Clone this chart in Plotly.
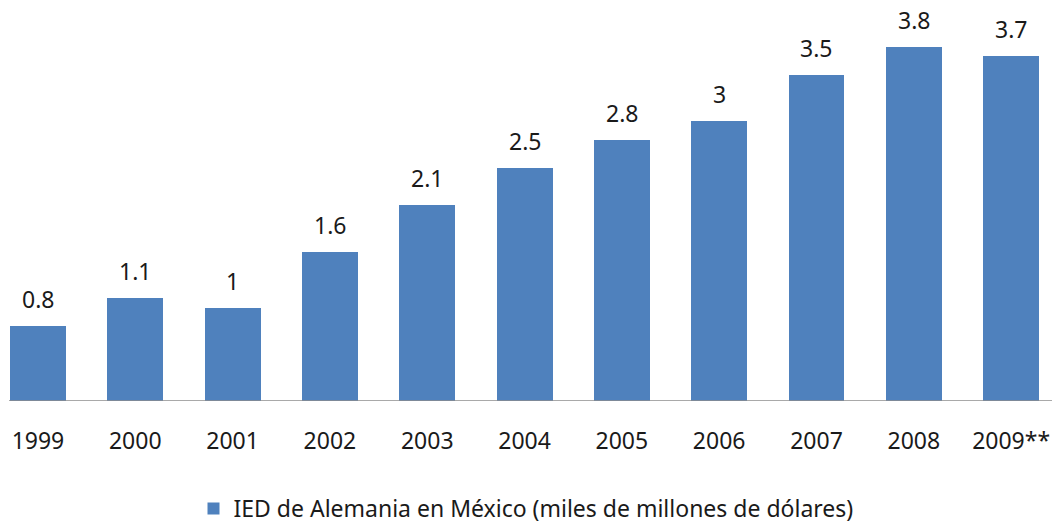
import plotly.graph_objects as go

years = ["1999", "2000", "2001", "2002", "2003", "2004", "2005", "2006", "2007", "2008", "2009**"]
ied = [0.8, 1.1, 1.0, 1.6, 2.1, 2.5, 2.8, 3.0, 3.5, 3.8, 3.7]
series_name = "IED de Alemania en México (miles de millones de dólares)"

BAR = "#4F81BD"
TXT = "#1a1a1a"
FONT = "Noto Sans, Open Sans, sans-serif"
FS = 23

fig = go.Figure()
fig.add_trace(go.Bar(
    x=list(range(len(years))), y=ied, name=series_name,
    marker=dict(color=BAR, line=dict(width=0)),
    width=0.575, showlegend=True,
))

# value labels above each bar
for i, v in enumerate(ied):
    fig.add_annotation(
        x=i, y=v, text=f"{v:g}", showarrow=False,
        yanchor="bottom", yshift=9,
        font=dict(family=FONT, size=FS, color=TXT),
    )

# baseline
fig.add_shape(type="line", xref="paper", yref="y",
              x0=9 / 1052, x1=1, y0=0, y1=0,
              line=dict(color="#8c8c8c", width=1.5))

fig.update_layout(
    width=1052, height=525,
    margin=dict(l=0, r=0, t=0, b=124, autoexpand=False),
    plot_bgcolor="white", paper_bgcolor="white",
    bargap=0,
    font=dict(family=FONT, size=FS, color=TXT),
    xaxis=dict(
        tickmode="array", tickvals=list(range(len(years))), ticktext=years,
        range=[-0.39, 10.42], showgrid=False, zeroline=False, showline=False,
        ticks="", ticklabelstandoff=24,
        tickfont=dict(family=FONT, size=FS, color=TXT),
    ),
    yaxis=dict(range=[0, 4.30], visible=False),
    legend=dict(
        orientation="h", x=0.5, xanchor="center", y=-0.268, yanchor="middle",
        font=dict(family=FONT, size=FS, color=TXT),
    ),
)

fig.write_html("out.html")
